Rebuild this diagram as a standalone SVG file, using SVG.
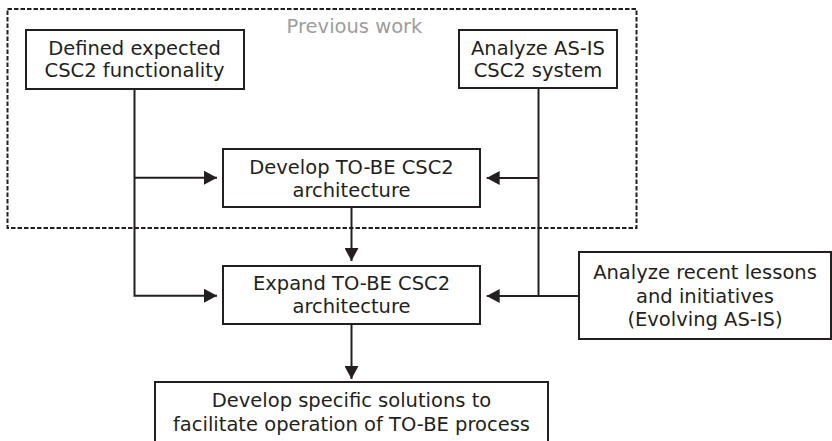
<svg xmlns="http://www.w3.org/2000/svg" width="832" height="441" viewBox="0 0 832 441">
<defs>
<style>
.box{fill:#fff;stroke:#231f20;stroke-width:2}
.t{font-family:"DejaVu Sans","Open Sans",sans-serif;font-size:19.5px;fill:#231f20;text-anchor:middle}
.g{fill:#9d9d9d}
.c{fill:none;stroke:#231f20;stroke-width:2}
.dash{fill:none;stroke:#231f20;stroke-width:2;stroke-dasharray:4.5 2}
</style>
<marker id="ah" viewBox="0 0 13 14" refX="13" refY="7" markerWidth="13" markerHeight="14" markerUnits="userSpaceOnUse" orient="auto">
<path d="M0,0 L13,7 L0,14 Z" fill="#231f20"/>
</marker>
</defs>
<rect width="832" height="441" fill="#fff"/>
<g id="previous-work">
<rect class="dash" x="7.5" y="9" width="629" height="219"/>
<text class="t g" x="354.5" y="32.7">Previous work</text>
</g>
<g id="connectors">
<path class="c" d="M134.5,89 V295.7 H217" marker-end="url(#ah)"/>
<path class="c" d="M134.5,177.7 H217" marker-end="url(#ah)"/>
<path class="c" d="M538.5,88 V296" />
<path class="c" d="M538.5,178 H486.7" marker-end="url(#ah)"/>
<path class="c" d="M579,296 H486.7" marker-end="url(#ah)"/>
<path class="c" d="M351.5,207 V261" marker-end="url(#ah)"/>
<path class="c" d="M351.5,324 V379" marker-end="url(#ah)"/>
</g>
<g id="n1">
<rect class="box" x="26" y="30" width="218" height="59"/>
<text class="t" x="134.5" y="55">Defined expected</text>
<text class="t" x="134.5" y="77.3">CSC2 functionality</text>
</g>
<g id="n2">
<rect class="box" x="459" y="30" width="158" height="58"/>
<text class="t" x="538" y="54.5">Analyze AS-IS</text>
<text class="t" x="538" y="77.3">CSC2 system</text>
</g>
<g id="n3">
<rect class="box" x="223" y="149" width="257" height="58"/>
<text class="t" x="351.5" y="174">Develop TO-BE CSC2</text>
<text class="t" x="351.5" y="196.7">architecture</text>
</g>
<g id="n4">
<rect class="box" x="223" y="266" width="257" height="58"/>
<text class="t" x="351.5" y="290">Expand TO-BE CSC2</text>
<text class="t" x="351.5" y="313.3">architecture</text>
</g>
<g id="n5">
<rect class="box" x="579" y="252" width="252" height="87"/>
<text class="t" x="705" y="279.3">Analyze recent lessons</text>
<text class="t" x="705" y="302.7">and initiatives</text>
<text class="t" x="705" y="326">(Evolving AS-IS)</text>
</g>
<g id="n6">
<rect class="box" x="155" y="382" width="393" height="64"/>
<text class="t" x="351.5" y="407.3">Develop specific solutions to</text>
<text class="t" x="351.5" y="431">facilitate operation of TO-BE process</text>
</g>
</svg>
